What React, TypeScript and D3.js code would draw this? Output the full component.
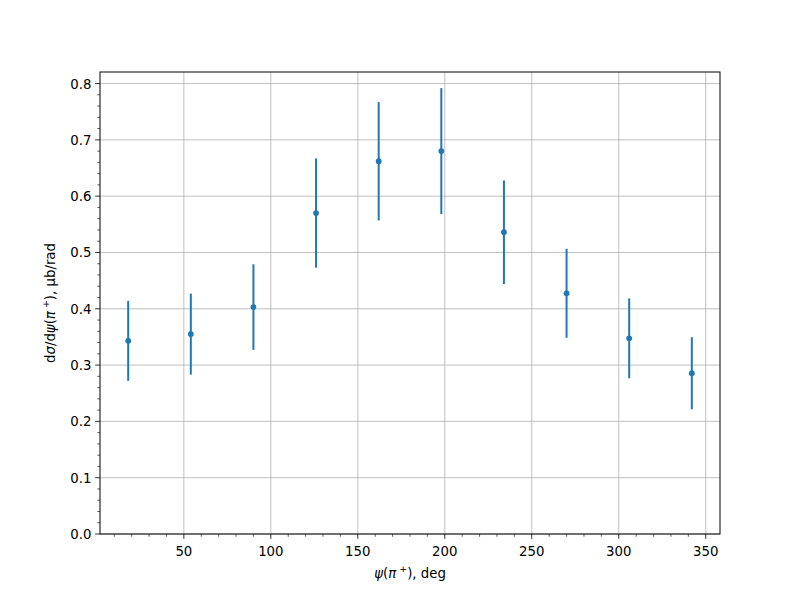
import React from "react";
import * as d3 from "d3";

const psi = [18, 54, 90, 126, 162, 198, 234, 270, 306, 342];
const values = [0.343, 0.355, 0.403, 0.570, 0.662, 0.680, 0.536, 0.4275, 0.3475, 0.2855];
const errors = [0.071, 0.072, 0.076, 0.097, 0.105, 0.112, 0.092, 0.079, 0.071, 0.064];
const xTicks = [50, 100, 150, 200, 250, 300, 350];
const yTicks = [0, 0.1, 0.2, 0.3, 0.4, 0.5, 0.6, 0.7, 0.8];

const W = 800, H = 600;
const L = 100, R = 720, T = 72, B = 534;
const COLOR = "#1f77b4";
const FONT = "DejaVu Sans, sans-serif";

export default function App() {
  const x = d3.scaleLinear().domain([1.8, 358.2]).range([L, R]);
  const y = d3.scaleLinear().domain([0, 0.8205]).range([B, T]);
  const xMinor = d3.range(10, 360, 10).filter((v) => v % 50 !== 0);
  const yMinor = d3.range(0, 0.82, 0.02).filter((v) => Math.abs(v * 10 - Math.round(v * 10)) > 1e-6);

  return (
    <svg width={W} height={H} style={{ position: "absolute", left: 0, top: 0, background: "#fff" }}>
      <rect x={0} y={0} width={W} height={H} fill="#fff" />
      {/* grid */}
      {xTicks.map((t) => (
        <line key={"gx" + t} x1={x(t)} x2={x(t)} y1={T} y2={B} stroke="#b0b0b0" strokeWidth={0.8} />
      ))}
      {yTicks.map((t) => (
        <line key={"gy" + t} x1={L} x2={R} y1={y(t)} y2={y(t)} stroke="#b0b0b0" strokeWidth={0.8} />
      ))}
      {/* error bars */}
      {psi.map((p, i) => (
        <line key={"e" + i} x1={x(p)} x2={x(p)} y1={y(values[i] - errors[i])} y2={y(values[i] + errors[i])}
          stroke={COLOR} strokeWidth={2} />
      ))}
      {psi.map((p, i) => (
        <circle key={"c" + i} cx={x(p)} cy={y(values[i])} r={2.9} fill={COLOR} />
      ))}
      {/* spines */}
      <rect x={L} y={T} width={R - L} height={B - T} fill="none" stroke="#000" strokeWidth={1} />
      {/* x ticks */}
      {xTicks.map((t) => (
        <g key={"xt" + t}>
          <line x1={x(t)} x2={x(t)} y1={B} y2={B + 4.9} stroke="#000" strokeWidth={0.8} />
          <text x={x(t)} y={B + 22} textAnchor="middle" fontFamily={FONT} fontSize={13.3} fill="#000">{t}</text>
        </g>
      ))}
      {xMinor.map((t) => (
        <line key={"xm" + t} x1={x(t)} x2={x(t)} y1={B} y2={B + 2.8} stroke="#000" strokeWidth={0.6} />
      ))}
      {/* y ticks */}
      {yTicks.map((t) => (
        <g key={"yt" + t}>
          <line x1={L - 4.9} x2={L} y1={y(t)} y2={y(t)} stroke="#000" strokeWidth={0.8} />
          <text x={L - 8.5} y={y(t) + 5} textAnchor="end" fontFamily={FONT} fontSize={13.3} fill="#000">{t.toFixed(1)}</text>
        </g>
      ))}
      {yMinor.map((t) => (
        <line key={"ym" + t} x1={L - 2.8} x2={L} y1={y(t)} y2={y(t)} stroke="#000" strokeWidth={0.6} />
      ))}
      {/* x label */}
      <text x={(L + R) / 2} y={578} textAnchor="middle" fontFamily={FONT} fontSize={13.3} fill="#000">
        <tspan fontStyle="italic">ψ</tspan>(<tspan fontStyle="italic">π</tspan>
        <tspan fontSize={9.5} dy={-6}> +</tspan>
        <tspan dy={6}>), deg</tspan>
      </text>
      {/* y label */}
      <text transform={`translate(${55},${(T + B) / 2}) rotate(-90)`} textAnchor="middle" fontFamily={FONT} fontSize={13.3} fill="#000">
        d<tspan fontStyle="italic">σ</tspan>/d<tspan fontStyle="italic">ψ</tspan>(<tspan fontStyle="italic">π</tspan>
        <tspan fontSize={9.5} dy={-6}> +</tspan>
        <tspan dy={6}>), μb/rad</tspan>
      </text>
    </svg>
  );
}
